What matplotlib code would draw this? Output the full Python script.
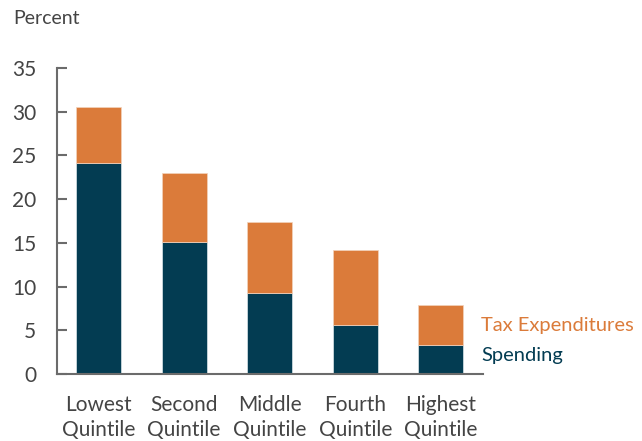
import matplotlib.pyplot as plt

categories = ["Lowest\nQuintile", "Second\nQuintile", "Middle\nQuintile", "Fourth\nQuintile", "Highest\nQuintile"]
spending = [24.1, 15.1, 9.3, 5.6, 3.3]
tax_exp = [6.4, 7.9, 8.1, 8.6, 4.6]

teal = "#033c52"
orange = "#db7b3a"
gray = "#444444"

plt.rcParams['font.family'] = ['Lato', 'DejaVu Sans']

fig = plt.figure(figsize=(6.42, 4.41), dpi=100)
ax = fig.add_axes([0.0888, 0.152, 0.752 - 0.0888, 0.846 - 0.152])

x = range(len(categories))
ax.bar(x, spending, width=0.525, color=teal, edgecolor="#dbe6ea", linewidth=0.5)
ax.bar(x, tax_exp, width=0.525, bottom=spending, color=orange, edgecolor="#f3d3bd", linewidth=0.5)

ax.set_xlim(-0.485, 4.49)
ax.set_ylim(0, 35)
ax.set_yticks(range(0, 36, 5))
ax.set_xticks(list(x))
ax.set_xticklabels(categories, linespacing=1.3)

for s in ["top", "right"]:
    ax.spines[s].set_visible(False)
for s in ["left", "bottom"]:
    ax.spines[s].set_color("#6b6b6b")
    ax.spines[s].set_linewidth(1.5)

ax.tick_params(axis="y", direction="in", length=7, width=1.5, color="#6b6b6b",
               labelsize=15, labelcolor=gray, pad=15)
ax.tick_params(axis="x", length=0, labelsize=15, labelcolor=gray, pad=15)

fig.text(13 / 642, 1 - 18 / 441, "Percent", fontsize=14, color=gray, va="center", ha="left")
ax.text(4.47, 5.5, "Tax Expenditures", fontsize=14.5, color=orange, va="center", ha="left")
ax.text(4.47, 2.1, "Spending", fontsize=14.5, color=teal, va="center", ha="left")

fig.savefig("out.png", dpi=100)
